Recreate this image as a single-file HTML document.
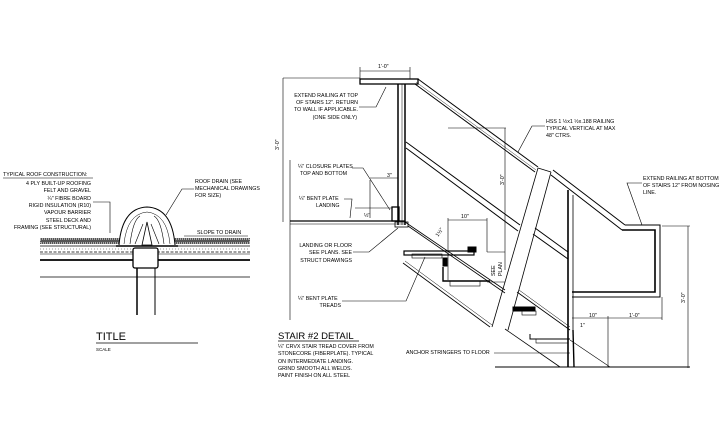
<!DOCTYPE html>
<html><head><style>
html,body{margin:0;padding:0;background:#fff;}
svg{display:block;}
text{font-family:"Liberation Sans",sans-serif;font-size:5.3px;fill:#000;}
</style></head><body>
<svg width="728" height="442" viewBox="0 0 728 442" xmlns="http://www.w3.org/2000/svg" stroke="#000" fill="none">
<!-- ROOF DETAIL -->
<g stroke-width="1">
<text x="3" y="176" stroke="none">TYPICAL ROOF CONSTRUCTION:</text>
<line x1="3" y1="178" x2="93" y2="178" stroke-width="0.6"/>
<g text-anchor="end" stroke="none">
<text x="91" y="185">4 PLY BUILT-UP ROOFING</text>
<text x="91" y="192">FELT AND GRAVEL</text>
<text x="91" y="200">¼" FIBRE BOARD</text>
<text x="91" y="207">RIGID INSULATION (R10)</text>
<text x="91" y="214">VAPOUR BARRIER</text>
<text x="91" y="222">STEEL DECK AND</text>
<text x="91" y="229">FRAMING (SEE STRUCTURAL)</text>
</g>
<polyline points="93,202 110,202 110,233" stroke-width="0.6"/>
<!-- layers -->
<rect x="40" y="238" width="210" height="6" fill="#555" stroke="none"/>
<rect x="40" y="239" width="210" height="4" fill="none" stroke="#fff" stroke-width="1" stroke-dasharray="1 1"/>
<line x1="40" y1="246" x2="250" y2="246" stroke-width="0.7"/>
<polyline points="40,252 250,252" stroke-width="0.7" stroke-dasharray="3 1.5"/>
<line x1="40" y1="249" x2="250" y2="249" stroke-width="0.4" stroke-dasharray="1 2"/>
<line x1="40" y1="254" x2="250" y2="254" stroke-width="0.6"/>
<line x1="40" y1="260" x2="250" y2="260" stroke-width="1.8"/>
<line x1="40" y1="277" x2="250" y2="277" stroke-width="0.8"/>
<!-- drain dome -->
<path d="M119,245 Q122,208 147,207 Q172,208 175,245" fill="#fff" stroke-width="1"/>
<path d="M124,244 Q127,214 147,212 Q167,214 170,244" stroke-width="0.5"/>
<path d="M130,244 Q133,220 140,216 M164,244 Q161,220 154,216 M135,244 L143,224 M159,244 L151,224" stroke-width="0.6"/>
<polygon points="147,222 142,245 152,245" fill="#fff" stroke-width="0.8"/>
<line x1="116" y1="246" x2="178" y2="246" stroke-width="1.6"/>
<rect x="133" y="248" width="25" height="20" rx="2" fill="#fff" stroke-width="1.3"/>
<line x1="137" y1="268" x2="137" y2="315" stroke-width="1.5"/>
<line x1="155" y1="268" x2="155" y2="315" stroke-width="1"/>
<g stroke="none">
<text x="195" y="183">ROOF DRAIN (SEE</text>
<text x="195" y="190">MECHANICAL DRAWINGS</text>
<text x="195" y="197">FOR SIZE)</text>
<text x="197" y="234">SLOPE TO DRAIN</text>
</g>
<polyline points="194,189 182,189 166,215" stroke-width="0.6"/>
<line x1="184" y1="236" x2="248" y2="236" stroke-width="0.6"/>
<text x="96" y="340" stroke="none" style="font-size:11px">TITLE</text>
<line x1="96" y1="343" x2="198" y2="343" stroke-width="0.8"/>
<text x="96" y="351" stroke="none" style="font-size:4.5px">SCALE</text>
</g>

<!-- STAIR DETAIL -->
<g stroke-width="1">
<!-- top dim -->
<line x1="360" y1="71" x2="410" y2="71" stroke-width="0.6"/>
<line x1="360" y1="67" x2="360" y2="80" stroke-width="0.6"/>
<line x1="410" y1="67" x2="410" y2="80" stroke-width="0.6"/>
<text x="378" y="68" stroke="none">1'-0"</text>
<!-- top horizontal rail -->
<rect x="360" y="79" width="58" height="5" fill="#fff" stroke-width="1.3"/>
<!-- vertical post -->
<line x1="398" y1="84" x2="398" y2="225" stroke-width="1.5"/>
<line x1="405" y1="84" x2="405" y2="225" stroke-width="1.5"/>
<line x1="402" y1="84" x2="402" y2="225" stroke-width="0.5"/>
<!-- main rail diagonal -->
<line x1="418" y1="79" x2="538" y2="167" stroke-width="1"/>
<line x1="415" y1="84" x2="535" y2="172" stroke-width="1"/>
<line x1="416" y1="82" x2="536" y2="170" stroke-width="0.4"/>
<line x1="553" y1="170" x2="625" y2="225" stroke-width="1"/>
<line x1="551" y1="175" x2="622" y2="230" stroke-width="1"/>
<polyline points="625,225 660,225 660,297 572,297" stroke-width="1"/>
<polyline points="622,230 655,230 655,292 572,292" stroke-width="1.6"/>
<!-- mid rail -->
<line x1="406" y1="142" x2="520" y2="225" stroke-width="1"/>
<line x1="406" y1="148" x2="518" y2="231" stroke-width="1"/>
<line x1="535" y1="228" x2="568" y2="252" stroke-width="1"/>
<line x1="533" y1="234" x2="568" y2="259" stroke-width="1"/>
<!-- slanted stringer band second flight -->
<line x1="551" y1="172" x2="508" y2="330" stroke-width="0.8"/>
<line x1="538" y1="168" x2="492" y2="327" stroke-width="0.8"/>
<line x1="551" y1="172" x2="538" y2="168" stroke-width="0.8"/>
<!-- lower stringer -->
<line x1="405" y1="222" x2="505" y2="290" stroke-width="0.8"/>
<line x1="408" y1="226" x2="505" y2="293" stroke-width="0.8"/>
<line x1="403" y1="263" x2="490" y2="327" stroke-width="0.8"/>
<line x1="405" y1="261" x2="492" y2="325" stroke-width="0.5"/>
<line x1="517" y1="292" x2="570" y2="330" stroke-width="0.8"/>
<line x1="519" y1="290" x2="570" y2="327" stroke-width="0.5"/>
<line x1="505" y1="329" x2="560" y2="367" stroke-width="0.8"/>
<line x1="570" y1="340" x2="610" y2="367" stroke-width="0.6"/>
<!-- right post -->
<line x1="568" y1="190" x2="568" y2="367" stroke-width="1.6"/>
<line x1="573" y1="195" x2="573" y2="330" stroke-width="0.8"/>
<line x1="573" y1="330" x2="574" y2="367" stroke-width="1.4"/>
<!-- floor -->
<line x1="495" y1="367" x2="690" y2="367" stroke-width="1"/>
<!-- landing -->
<line x1="290" y1="221" x2="405" y2="221" stroke-width="1.2"/>
<line x1="290" y1="224" x2="405" y2="224" stroke-width="0.5"/>
<rect x="392" y="207" width="7" height="14" stroke-width="1.3"/>
<rect x="395" y="222" width="13" height="5" stroke-width="0.8"/>
<!-- treads -->
<rect x="404" y="251" width="70" height="4" stroke-width="1.2"/>
<rect x="412" y="254" width="30" height="4" stroke-width="0.6"/>
<rect x="468" y="247" width="8" height="5" fill="#000"/>
<rect x="443" y="258" width="4" height="8" fill="#000"/>
<polyline points="443,267 443,281 490,281" stroke-width="1.4"/>
<rect x="450" y="281" width="30" height="5" stroke-width="0.6"/>
<rect x="513" y="307" width="22" height="4" fill="#000"/>
<rect x="522" y="311" width="14" height="4" stroke-width="0.6"/>
<polyline points="530,334 530,339 570,339" stroke-width="1"/>
<rect x="536" y="339" width="32" height="4" stroke-width="0.6"/>
<!-- dims -->
<line x1="283" y1="78" x2="283" y2="222" stroke-width="0.6"/>
<line x1="283" y1="78" x2="360" y2="78" stroke-width="0.6"/>
<line x1="290" y1="160" x2="290" y2="320" stroke-width="0.6"/>
<text transform="translate(279,150) rotate(-90)" stroke="none">3'-0"</text>
<line x1="505" y1="128" x2="505" y2="270" stroke-width="0.6"/>
<line x1="448" y1="128" x2="506" y2="128" stroke-width="0.6"/>
<text transform="translate(504,185) rotate(-90)" stroke="none">3'-0"</text>
<line x1="448" y1="220" x2="487" y2="220" stroke-width="0.6"/>
<line x1="448" y1="218" x2="448" y2="280" stroke-width="0.6"/>
<line x1="487" y1="218" x2="487" y2="252" stroke-width="0.6"/>
<text x="461" y="218" stroke="none">10"</text>
<line x1="487" y1="252" x2="505" y2="252" stroke-width="0.6"/>
<line x1="487" y1="282" x2="505" y2="282" stroke-width="0.6"/>
<text transform="translate(495,276) rotate(-90)" stroke="none">SEE</text>
<text transform="translate(502,276) rotate(-90)" stroke="none">PLAN</text>
<line x1="370" y1="180" x2="370" y2="218" stroke-width="0.6"/>
<line x1="370" y1="178" x2="398" y2="178" stroke-width="0.6"/>
<text x="387" y="177" stroke="none">3"</text>
<line x1="355" y1="208" x2="392" y2="208" stroke-width="0.6"/>
<text x="364" y="217" stroke="none">½"</text>
<line x1="688" y1="226" x2="688" y2="368" stroke-width="0.6"/>
<line x1="662" y1="226" x2="690" y2="226" stroke-width="0.6"/>
<text transform="translate(685,303) rotate(-90)" stroke="none">3'-0"</text>
<line x1="572" y1="318" x2="662" y2="318" stroke-width="0.6"/>
<line x1="608" y1="316" x2="608" y2="367" stroke-width="0.6"/>
<line x1="662" y1="297" x2="662" y2="320" stroke-width="0.6"/>
<text x="589" y="317" stroke="none">10"</text>
<text x="629" y="317" stroke="none">1'-0"</text>
<text x="580" y="327" stroke="none">1"</text>
<text transform="translate(438,237) rotate(-55)" stroke="none">1½"</text>
<!-- labels -->
<g stroke="none">
<text x="358" y="97" text-anchor="end">EXTEND RAILING AT TOP</text>
<text x="358" y="104" text-anchor="end">OF STAIRS 12". RETURN</text>
<text x="358" y="111" text-anchor="end">TO WALL IF APPLICABLE.</text>
<text x="357" y="119" text-anchor="end">(ONE SIDE ONLY)</text>
<text x="298" y="168">¼" CLOSURE PLATES</text>
<text x="300" y="175">TOP AND BOTTOM</text>
<text x="299" y="200">¼" BENT PLATE</text>
<text x="316" y="207">LANDING</text>
<text x="352" y="247" text-anchor="end">LANDING OR FLOOR</text>
<text x="352" y="254" text-anchor="end">SEE PLANS. SEE</text>
<text x="352" y="262" text-anchor="end">STRUCT DRAWINGS</text>
<text x="298" y="300">¼" BENT PLATE</text>
<text x="341" y="307" text-anchor="end">TREADS</text>
<text x="546" y="123">HSS 1 ½x1 ½x.188 RAILING</text>
<text x="546" y="130">TYPICAL VERTICAL AT MAX</text>
<text x="546" y="137">48" CTRS.</text>
<text x="643" y="180">EXTEND RAILING AT BOTTOM</text>
<text x="643" y="187">OF STAIRS 12" FROM NOSING</text>
<text x="643" y="194">LINE.</text>
<text x="406" y="354">ANCHOR STRINGERS TO FLOOR</text>
<text x="278" y="339" style="font-size:9.5px">STAIR #2 DETAIL</text>
<text x="278" y="348">¼" CRVX STAIR TREAD COVER FROM</text>
<text x="278" y="355">STONECORE (FIBERPLATE). TYPICAL</text>
<text x="278" y="363">ON INTERMEDIATE LANDING.</text>
<text x="278" y="370">GRIND SMOOTH ALL WELDS.</text>
<text x="278" y="377">PAINT FINISH ON ALL STEEL</text>
</g>
<line x1="278" y1="341" x2="359" y2="341" stroke-width="0.7"/>
<!-- leaders -->
<polyline points="359,107 376,107 386,87" stroke-width="0.6"/>
<polyline points="352,168 363,168 390,210" stroke-width="0.6"/>
<polyline points="344,199 352,199 350,218" stroke-width="0.6"/>
<polyline points="353,252 369,252 398,228" stroke-width="0.6"/>
<polyline points="342,301 406,301 425,257" stroke-width="0.6"/>
<polyline points="545,126 532,126 518,152" stroke-width="0.6"/>
<polyline points="642,183 627,183 642,225" stroke-width="0.6"/>
<line x1="494" y1="353" x2="570" y2="353" stroke-width="0.6"/>
</g>
</svg>
</body></html>
